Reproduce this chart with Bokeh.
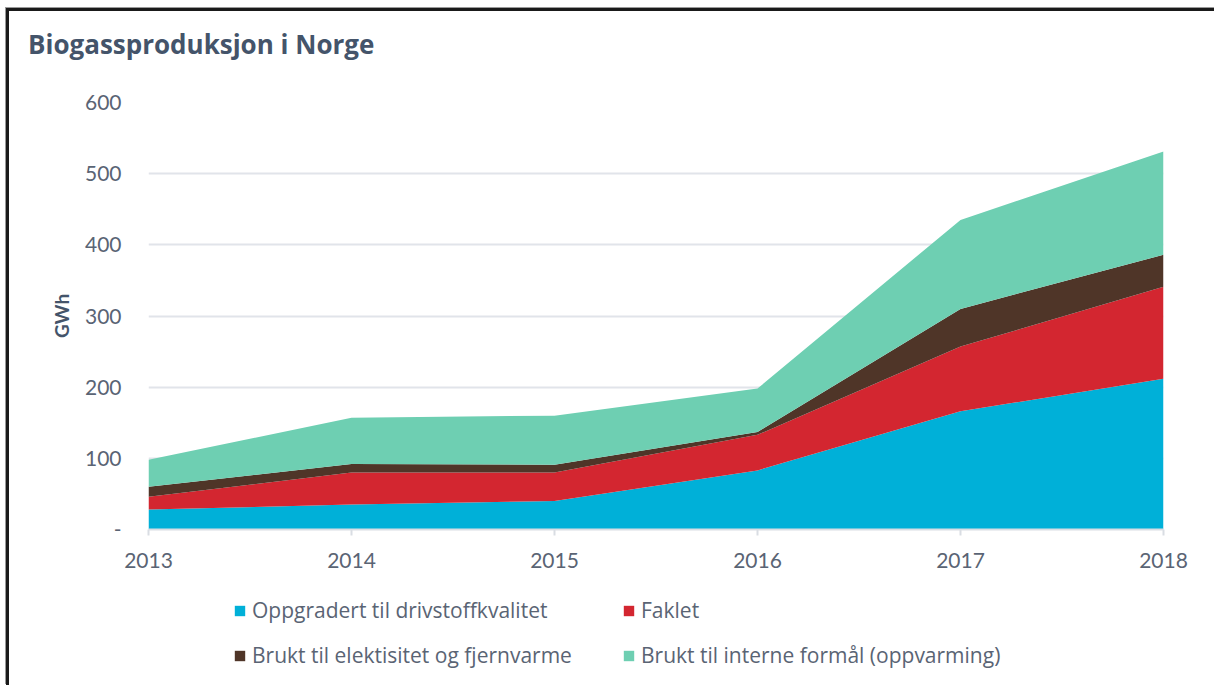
from bokeh.plotting import figure
from bokeh.layouts import column
from bokeh.models import ColumnDataSource, FixedTicker, Legend, LegendItem, Div
from bokeh.embed import file_html
from bokeh.resources import INLINE

years = [2013, 2014, 2015, 2016, 2017, 2018]
oppgradert = [28, 35, 40, 83, 166, 212]
faklet = [18, 45, 40, 50, 91, 129]
elektrisitet = [14, 12, 11, 4, 53, 45]
interne = [38, 65, 69, 61, 125, 145]

chart_title = "Biogassproduksjon i Norge"
series_names = ["Oppgradert til drivstoffkvalitet", "Faklet",
                "Brukt til elektisitet og fjernvarme", "Brukt til interne formål (oppvarming)"]
series_keys = ["oppgradert", "faklet", "elektrisitet", "interne"]
colors = ["#00b0d8", "#d32630", "#4f3528", "#6ecfb2"]
y_ticks = [0, 100, 200, 300, 400, 500, 600]

source = ColumnDataSource(dict(year=years, oppgradert=oppgradert, faklet=faklet,
                               elektrisitet=elektrisitet, interne=interne))

FONT = "Lato"
TICK_COLOR = "#5a6474"
TITLE_COLOR = "#44546a"
W = 1203

title_div = Div(
    text=(f'<div style="font-family:\'Open Sans\';font-size:26px;font-weight:bold;'
          f'color:{TITLE_COLOR};padding-left:14px;padding-top:12px;line-height:32px;'
          f'white-space:nowrap">{chart_title}</div>'),
    width=W, height=50)

p = figure(width=W, height=514, output_backend="svg", toolbar_location=None,
           x_range=(2013, 2018), y_range=(0, 600),
           min_border_left=139, min_border_top=31, min_border_bottom=56, min_border_right=49)
p.outline_line_color = None
p.background_fill_color = "white"
p.border_fill_color = "white"

renderers = p.varea_stack(stackers=series_keys, x="year", color=colors, source=source)

# Axes
p.yaxis.ticker = FixedTicker(ticks=y_ticks)
p.yaxis.major_label_overrides = {0: "-"}
p.yaxis.axis_line_color = None
p.yaxis.major_tick_line_color = None
p.yaxis.minor_tick_line_color = None
p.yaxis.major_label_standoff = 21
p.yaxis.major_label_text_font = FONT
p.yaxis.major_label_text_font_size = "21px"
p.yaxis.major_label_text_color = TICK_COLOR
p.yaxis.axis_label = "GWh"
p.yaxis.axis_label_text_font = FONT
p.yaxis.axis_label_text_font_size = "19px"
p.yaxis.axis_label_text_font_style = "bold"
p.yaxis.axis_label_text_color = TITLE_COLOR
p.yaxis.axis_label_standoff = 9

p.xaxis.ticker = FixedTicker(ticks=years)
p.xaxis.axis_line_color = "#d9dde3"
p.xaxis.axis_line_width = 2
p.xaxis.major_tick_line_color = "#d9dde3"
p.xaxis.major_tick_line_width = 2
p.xaxis.major_tick_out = 6
p.xaxis.major_tick_in = 0
p.xaxis.minor_tick_line_color = None
p.xaxis.major_label_standoff = 17
p.xaxis.major_label_text_font = FONT
p.xaxis.major_label_text_font_size = "21px"
p.xaxis.major_label_text_color = TICK_COLOR

p.xgrid.grid_line_color = None
p.ygrid.ticker = FixedTicker(ticks=[100, 200, 300, 400, 500, 600])
p.ygrid.grid_line_color = "#e1e4ea"
p.ygrid.grid_line_width = 2
p.ygrid.level = "underlay"

# Legend panel (separate figure below the chart; its ranges keep the swatch areas out of view)
lp = figure(width=W, height=100, output_backend="svg", toolbar_location=None,
            x_range=(0, 1), y_range=(0, 1), x_axis_location=None, y_axis_location=None,
            min_border=0)
lp.outline_line_color = None
lp.xgrid.grid_line_color = None
lp.ygrid.grid_line_color = None
swatches = [lp.varea(x="year", y1=0, y2=k, color=c, source=source)
            for k, c in zip(series_keys, colors)]

positions = [(85, 61), (474, 61), (85, 16), (474, 16)]
for r, name, pos in zip(swatches, series_names, positions):
    lg = Legend(items=[LegendItem(label=name, renderers=[r])], location=pos,
                orientation="horizontal", padding=0, margin=0, spacing=0,
                glyph_width=13, glyph_height=13, label_standoff=6, label_height=13,
                label_text_font="Open Sans", label_text_font_size="21px",
                label_text_color=TICK_COLOR, border_line_color=None,
                background_fill_alpha=0)
    lp.add_layout(lg, "center")

layout = column(title_div, p, lp, spacing=0,
                styles={"border-top": "3px solid #1a1a1a", "border-left": "3px solid #1a1a1a",
                        "box-shadow": "-1px -1px 0 #9a9a9a",
                        "margin-top": "8px", "margin-left": "6px"})

open("out.html", "w").write(file_html(layout, INLINE))
